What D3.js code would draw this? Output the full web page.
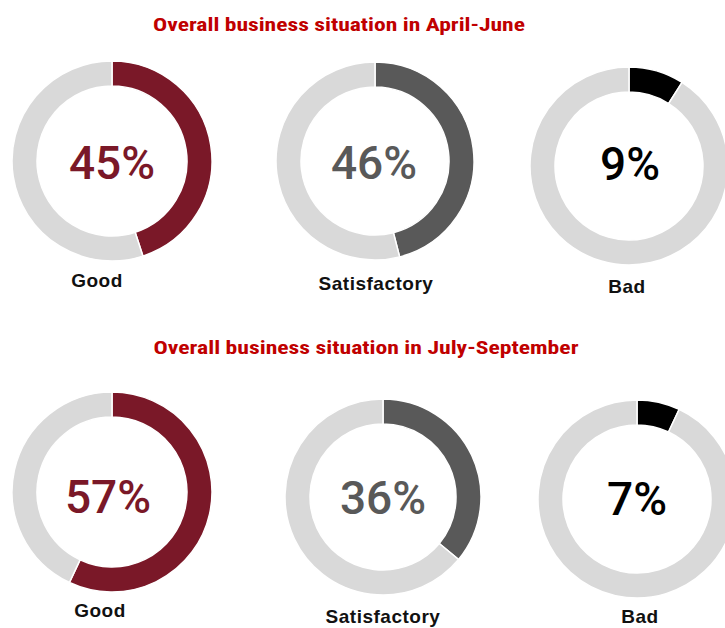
<!DOCTYPE html>
<html>
<head>
<meta charset="utf-8">
<script src="https://cdn.jsdelivr.net/npm/d3@7"></script>
<style>
  body { margin: 0; background: #fff; }
  svg { display: block; }
</style>
</head>
<body>
<div class="chart"></div>
<script>
// chart data
const titles = ["Overall business situation in April-June", "Overall business situation in July-September"]
const categories = ["Good", "Satisfactory", "Bad"]
const aprilJune = [45, 46, 9]
const julySeptember = [57, 36, 7]
const colors = ["#7a1828", "#595959", "#000000"]

const width = 725
const height = 628

// layout for each row (centres, radii, label offsets)
const rows = [
    { values: aprilJune, title: titles[0], titleX: 339, titleY: 31, titleLen: 372,
      cx: [112, 375, 629], cy: [161, 161, 166], r: [100, 99, 99],
      labelDx: [-15, 1, -2], labelY: [287, 290, 293], pctDx: [0, -1, 1], pctDy: [2, 2, -2] },
    { values: julySeptember, title: titles[1], titleX: 366, titleY: 354, titleLen: 425,
      cx: [112, 383, 637], cy: [492, 497, 499], r: [100, 98, 99],
      labelDx: [-12, 0, 3], labelY: [617, 623, 623], pctDx: [-4, 0, 0], pctDy: [5, 1, 0] }
]

const svg = d3.create("svg")
    .attr("width", width)
    .attr("height", height)
    .attr("viewBox", [0, 0, width, height])

const pie = d3.pie().sort(null).value(d => d)

rows.forEach(row => {
    svg.append("text")
        .attr("x", row.titleX)
        .attr("y", row.titleY)
        .attr("text-anchor", "middle")
        .attr("textLength", row.titleLen)
        .attr("lengthAdjust", "spacingAndGlyphs")
        .style("font-family", "'Liberation Sans Narrow', 'Roboto Condensed', 'Liberation Sans', sans-serif")
        .style("font-weight", "bold")
        .style("font-size", "18px")
        .style("fill", "#c00000")
        .text(row.title)

    row.values.forEach((v, i) => {
        const r = row.r[i]
        const arc = d3.arc().innerRadius(r - 25).outerRadius(r)
        const g = svg.append("g")
            .attr("transform", `translate(${row.cx[i]},${row.cy[i]})`)

        g.selectAll("path")
            .data(pie([v, 100 - v]))
            .join("path")
            .attr("d", arc)
            .attr("fill", (d, j) => j === 0 ? colors[i] : "#d9d9d9")
            .attr("stroke", "#fff")
            .attr("stroke-width", 1.5)

        g.append("text")
            .attr("x", row.pctDx[i])
            .attr("y", row.pctDy[i])
            .attr("text-anchor", "middle")
            .attr("dominant-baseline", "central")
            .style("font-family", "Roboto, 'Liberation Sans', sans-serif")
            .style("font-size", "46px")
            .style("font-weight", "500")
            .style("fill", colors[i])
            .text(v + "%")

        svg.append("text")
            .attr("x", row.cx[i] + row.labelDx[i])
            .attr("y", row.labelY[i])
            .attr("text-anchor", "middle")
            .style("font-family", "'Liberation Sans', Arial, sans-serif")
            .style("font-weight", "bold")
            .style("font-size", "19px")
            .style("letter-spacing", "0.5px")
            .style("fill", "#111")
            .text(categories[i])
    })
})

document.querySelector(".chart").appendChild(svg.node())
</script>
</body>
</html>
